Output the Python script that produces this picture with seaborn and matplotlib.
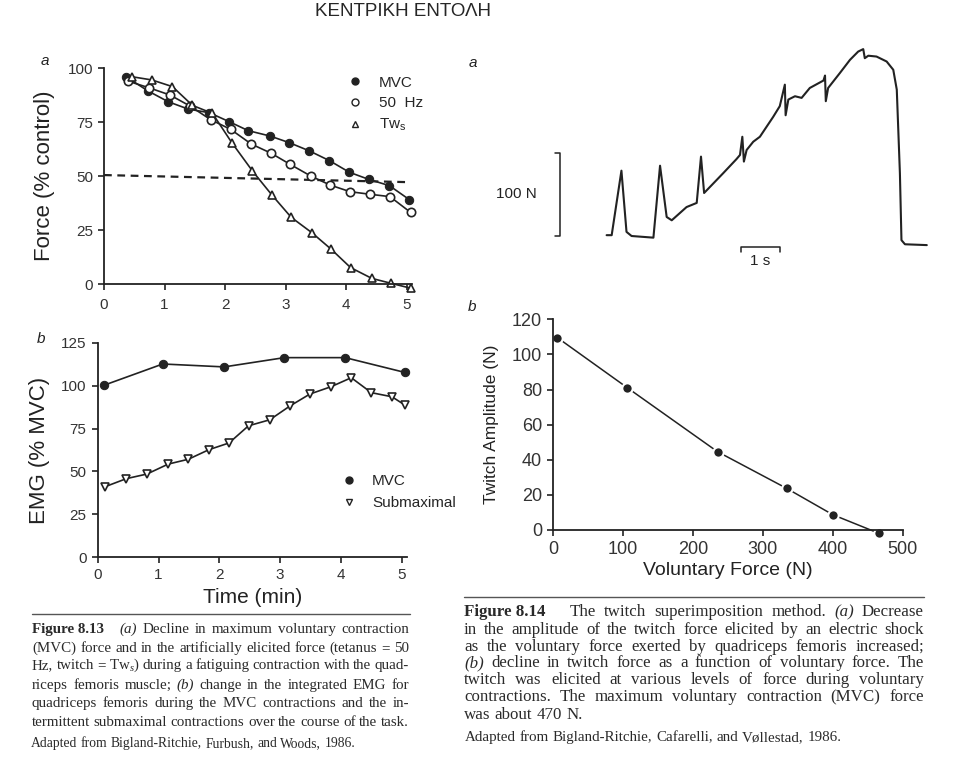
import seaborn as sns
import matplotlib
import matplotlib.pyplot as plt
from matplotlib.lines import Line2D
import pandas as pd

# figure 8.13a : force during fatiguing contraction
mvc_t = [0.37, 0.72, 1.06, 1.39, 1.74, 2.07, 2.38, 2.74, 3.06, 3.39, 3.72, 4.05, 4.37, 4.71, 5.04]
mvc_f = [96, 89.6, 84.5, 81.1, 79.4, 75.2, 71.1, 68.6, 65.5, 61.7, 57.2, 51.8, 48.5, 45.6, 39.1]
hz_t = [0.40, 0.74, 1.09, 1.42, 1.76, 2.09, 2.43, 2.76, 3.07, 3.41, 3.73, 4.06, 4.39, 4.72, 5.06]
hz_f = [94, 91, 87.6, 82.5, 76.2, 71.7, 64.9, 60.6, 55.5, 50.1, 45.9, 42.8, 41.6, 40.5, 33.2]
tw_t = [0.46, 0.79, 1.13, 1.46, 1.79, 2.11, 2.45, 2.77, 3.09, 3.43, 3.75, 4.07, 4.42, 4.74, 5.07]
tw_f = [96.1, 94.6, 91.5, 82.8, 79.1, 65.5, 52.4, 41.3, 30.9, 23.8, 16.1, 7.6, 2.6, 0.3, -2]
half_t = [0, 5.05]
half_f = [50.5, 47.2]

# figure 8.13b : EMG
emg_mvc_t = [0.11, 1.07, 2.08, 3.07, 4.07, 5.05]
emg_mvc = [100.3, 112.6, 110.9, 116.3, 116.3, 107.7]
emg_sub_t = [0.12, 0.47, 0.81, 1.16, 1.49, 1.83, 2.16, 2.48, 2.83, 3.16, 3.49, 3.84, 4.17, 4.50, 4.84, 5.05]
emg_sub = [41.1, 45.8, 48.5, 54.3, 57.1, 62.7, 66.6, 76.6, 80.1, 88.1, 95.1, 99.4, 104.6, 95.9, 93.5, 88.7]

# figure 8.14a : force record with superimposed twitches (s, N)
trace_t = [0, 0.13, 0.38, 0.51, 0.64, 1.20, 1.37, 1.54, 1.67, 2.05, 2.31, 2.42, 2.50, 2.99,
           3.33, 3.42, 3.48, 3.52, 3.59, 3.76, 3.93, 4.10, 4.27, 4.44, 4.57, 4.59, 4.66, 4.83,
           5.00, 5.21, 5.56, 5.60, 5.62, 5.68, 5.98, 6.24, 6.45, 6.58, 6.62, 6.71, 6.92, 7.18,
           7.35, 7.44, 7.52, 7.56, 7.65, 8.21]
trace_f = [1, 1, 79, 5, 0, -2, 85, 23, 19, 35, 40, 96, 52, 76,
           93, 98, 120, 90, 104, 114, 120, 132, 144, 157, 183, 146, 165, 169,
           167, 179, 188, 194, 163, 179, 197, 213, 223, 226, 215, 218, 217, 211,
           201, 177, 76, -5, -10, -11]
bar_n_t = [-1.33, -1.2, -1.2, -1.33]
bar_n_f = [0, 0, 100, 100]
bar_s_t = [3.44, 3.44, 4.44, 4.44]
bar_s_f = [-19, -13.7, -13.7, -19]

# figure 8.14b : twitch amplitude vs voluntary force
vol_force = [6, 106, 235, 334, 400, 466]
twitch_amp = [109.5, 81, 44.6, 23.7, 8.7, -1.9]

caption_left = [
    "Figure 8.13|(a) Decline in maximum voluntary contraction",
    "(MVC) force and in the artificially elicited force (tetanus = 50",
    "Hz, twitch = Tw$_s$) during a fatiguing contraction with the quad-",
    "riceps femoris muscle; (b) change in the integrated EMG for",
    "quadriceps femoris during the MVC contractions and the in-",
    "termittent submaximal contractions over the course of the task.",
]
source_left = "Adapted from Bigland-Ritchie, Furbush, and Woods, 1986."
caption_right = [
    "Figure 8.14|The twitch superimposition method. (a) Decrease",
    "in the amplitude of the twitch force elicited by an electric shock",
    "as the voluntary force exerted by quadriceps femoris increased;",
    "(b) decline in twitch force as a function of voluntary force. The",
    "twitch was elicited at various levels of force during voluntary",
    "contractions. The maximum voluntary contraction (MVC) force",
]
last_right = "was about 470 N."
source_right = "Adapted from Bigland-Ritchie, Cafarelli, and Vøllestad, 1986."

sns.set_style('ticks')
plt.rcParams['font.family'] = ['Liberation Sans', 'DejaVu Sans']
plt.rcParams['mathtext.fontset'] = 'custom'
plt.rcParams['mathtext.it'] = 'Liberation Serif:italic'
plt.rcParams['mathtext.rm'] = 'Liberation Serif'
plt.rcParams['mathtext.sf'] = 'Liberation Sans'
plt.rcParams['axes.edgecolor'] = '#222222'
plt.rcParams['axes.linewidth'] = 1.3

W, H = 960, 779
fig = plt.figure(figsize=(9.6, 7.79), dpi=100)


def px_axes(x0, y_top, x1, y_bot):
    return fig.add_axes([x0 / W, 1 - y_bot / H, (x1 - x0) / W, (y_bot - y_top) / H])


def style_axes(ax, size):
    sns.despine(ax=ax)
    ax.tick_params(direction='out', length=4, width=1.2, colors='#222222',
                   labelsize=size, pad=4)
    for lab in ax.get_xticklabels() + ax.get_yticklabels():
        lab.set_color('#333333')


ink = '#222222'
line_kw = dict(color=ink, lw=1.2, clip_on=False, markersize=6)

# ---- 8.13a
ax1 = px_axes(104, 68.3, 411.8, 284)
sns.lineplot(x=half_t, y=half_f, ax=ax1, color=ink, lw=1.6, clip_on=False)
ax1.lines[-1].set_linestyle((0, (3.5, 2.5)))
sns.lineplot(x=mvc_t, y=mvc_f, ax=ax1, marker='o', mfc=ink, mec=ink, **line_kw)
sns.lineplot(x=hz_t, y=hz_f, ax=ax1, marker='o', mfc='white', mec=ink, mew=1.2, **line_kw)
sns.lineplot(x=tw_t, y=tw_f, ax=ax1, marker='^', mfc='white', mec=ink, mew=1.2, **line_kw)
ax1.set_xlim(0, 5.08)
ax1.set_ylim(0, 100)
ax1.set_xticks(range(6))
ax1.set_yticks([0, 25, 50, 75, 100])
style_axes(ax1, 11)
ax1.tick_params(axis='x', pad=6)
ax1.set_ylabel('Force (% control)', fontsize=16, labelpad=9, color=ink)
h1 = [Line2D([], [], ls='none', marker='o', color=ink, ms=5),
      Line2D([], [], ls='none', marker='o', mfc='white', mec=ink, ms=5),
      Line2D([], [], ls='none', marker='^', mfc='white', mec=ink, ms=5)]
ax1.legend(h1, ['MVC', '50  Hz', r'Tw$_\mathsf{s}$'], loc='upper left',
           bbox_to_anchor=(0.72, 1.03), frameon=False, fontsize=11,
           handletextpad=0.6, labelspacing=0.45)

# ---- 8.13b
ax2 = px_axes(97.7, 342.7, 406.6, 557.3)
sns.lineplot(x=emg_mvc_t, y=emg_mvc, ax=ax2, marker='o', mfc=ink, mec=ink, **line_kw)
sns.lineplot(x=emg_sub_t, y=emg_sub, ax=ax2, marker='v', mfc='white', mec=ink, mew=1.2, **line_kw)
ax2.set_xlim(0, 5.08)
ax2.set_ylim(0, 125)
ax2.set_xticks(range(6))
ax2.set_yticks([0, 25, 50, 75, 100, 125])
style_axes(ax2, 11)
ax2.set_ylabel('EMG (% MVC)', fontsize=16, labelpad=8, color=ink)
ax2.set_xlabel('Time (min)', fontsize=15, labelpad=4, color=ink)
h2 = [Line2D([], [], ls='none', marker='o', color=ink, ms=5),
      Line2D([], [], ls='none', marker='v', mfc='white', mec=ink, ms=5)]
ax2.legend(h2, ['MVC', 'Submaximal'], loc='upper left',
           bbox_to_anchor=(0.72, 0.45), frameon=False, fontsize=11,
           handletextpad=0.5, labelspacing=0.5)

# ---- 8.14a
ax3 = px_axes(490, 40, 935, 280)
sns.lineplot(x=trace_t, y=trace_f, ax=ax3, sort=False, estimator=None, color=ink, lw=1.5)
ax3.plot(bar_n_t, bar_n_f, color=ink, lw=1.1)
ax3.plot(bar_s_t, bar_s_f, color=ink, lw=1.1)
ax3.text(-2.31, 51, '100 N', ha='center', va='center', fontsize=11, color=ink)
ax3.text(3.94, -30, '1 s', ha='center', va='center', fontsize=11, color=ink)
ax3.set_xlim(-2.99, 8.42)
ax3.set_ylim(-53.2, 237)
ax3.axis('off')

# ---- 8.14b
ax4 = px_axes(553.3, 319.3, 902.7, 530)
sns.lineplot(x=vol_force, y=twitch_amp, ax=ax4, marker='o', markersize=7.5,
             color=ink, lw=1.1, mew=1.5, clip_on=False)
ax4.set_xlim(0, 500)
ax4.set_ylim(0, 120)
ax4.set_xticks(range(0, 501, 100))
ax4.set_yticks(range(0, 121, 20))
style_axes(ax4, 13)
ax4.set_ylabel('Twitch Amplitude (N)', fontsize=12.5, labelpad=9, color=ink)
ax4.set_xlabel('Voluntary Force (N)', fontsize=14, labelpad=3, color=ink)

# panel letters and title
for x, y, s in [(45, 61, 'a'), (41, 339, 'b'), (473, 63, 'a'), (472, 307, 'b')]:
    fig.text(x / W, 1 - y / H, s, fontsize=11, style='italic', ha='center', va='center', color=ink)
fig.text(403 / W, 1 - 12 / H, 'ΚΕΝΤΡΙΚΗ ΕΝΤΟΛΗ', fontsize=13.5, ha='center', va='center')

# captions
serif = ['Liberation Serif', 'DejaVu Serif']
renderer = fig.canvas.get_renderer()


def caption_line(x0, x1, y, line, size, justify=True):
    if '|' in line:
        head, rest = line.split('|')
        tokens = [(head, 'bold', 'normal')]
    else:
        rest = line
        tokens = []
    for w in rest.split(' '):
        tokens.append((w, 'normal', 'italic' if w in ('(a)', '(b)') else 'normal'))
    arts = [fig.text(0, 1 - y / H, w, fontsize=size, family=serif, weight=wt,
                     style=st, va='baseline', color='#2a2a2a') for w, wt, st in tokens]
    widths = [a.get_window_extent(renderer).width for a in arts]
    gaps = [1.0] * (len(arts) - 1)
    if '|' in line:
        gaps[0] = 3.0
    if justify:
        gap = (x1 - x0 - sum(widths)) / sum(gaps)
    else:
        gap = size * 0.25 * 100 / 72
    x = x0
    for i, (a, w) in enumerate(zip(arts, widths)):
        a.set_x(x / W)
        if i < len(gaps):
            x += w + gap * gaps[i]


fig.add_artist(Line2D([32 / W, 410 / W], [1 - 614 / H, 1 - 614 / H], color='#555555', lw=1.0))
fig.add_artist(Line2D([464 / W, 924 / W], [1 - 597 / H, 1 - 597 / H], color='#555555', lw=1.0))

left_y = [633, 652, 669, 689, 707, 726]
for y, line in zip(left_y, caption_left):
    caption_line(32, 409, y, line, 10.8)
caption_line(31, 409, 747, source_left, 9.8, justify=False)

right_y = [616, 634, 651, 667, 684, 701]
for y, line in zip(right_y, caption_right):
    caption_line(464, 924, y, line, 12.2)
caption_line(464, 924, 719, last_right, 12.2, justify=False)
caption_line(465, 924, 741, source_right, 10.8, justify=False)

fig.savefig('out.png', dpi=100, facecolor='white')
